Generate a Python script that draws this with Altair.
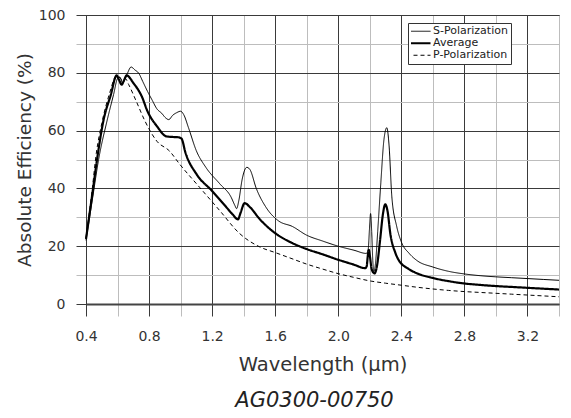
import altair as alt
import pandas as pd

series_names = ["S-Polarization", "Average", "P-Polarization"]

s_wl = [0.40, 0.44, 0.48, 0.533, 0.575, 0.60, 0.615, 0.632, 0.66, 0.686, 0.71, 0.735, 0.76, 0.79, 0.82, 0.85,
        0.88, 0.905, 0.925, 0.95, 0.975, 1.00, 1.02, 1.05, 1.10, 1.16, 1.25, 1.32, 1.345, 1.355, 1.37, 1.39,
        1.42, 1.44, 1.48, 1.54, 1.62, 1.71, 1.80, 1.90, 2.00, 2.10, 2.178, 2.19, 2.198, 2.205, 2.212, 2.219,
        2.226, 2.236, 2.25, 2.27, 2.29, 2.308, 2.322, 2.34, 2.37, 2.40, 2.45, 2.50, 2.60, 2.70, 2.80, 2.90,
        3.00, 3.10, 3.20, 3.30, 3.40]
s_val = [22, 36, 50, 63.3, 72.5, 78, 78.5, 76.5, 79.5, 82, 81, 79.8, 77, 73.6, 70.5, 67.5,
         66, 64.4, 63.8, 65.3, 66.2, 66.7, 65.5, 61, 53, 47.3, 41.5, 37, 34, 33, 36, 43,
         47.3, 46.5, 40, 33.6, 28.8, 26.8, 23.8, 21.8, 20, 18.6, 17.5, 19, 26, 31.3, 25, 15,
         11.2, 14, 25, 42, 57, 61, 55, 37, 27, 21.5, 17.5, 15, 12.8, 11.3, 10.4, 9.8,
         9.4, 9.1, 8.8, 8.5, 8.2]

a_wl = [0.40, 0.44, 0.47, 0.51, 0.558, 0.594, 0.61, 0.626, 0.642, 0.658, 0.70, 0.754, 0.79, 0.85, 0.91,
        0.95, 0.985, 1.006, 1.03, 1.10, 1.196, 1.29, 1.33, 1.364, 1.38, 1.406, 1.44, 1.50, 1.60, 1.70,
        1.80, 1.90, 2.00, 2.10, 2.17, 2.18, 2.188, 2.194, 2.202, 2.212, 2.23, 2.245, 2.265, 2.283, 2.298,
        2.313, 2.33, 2.36, 2.38, 2.45, 2.50, 2.60, 2.70, 2.80, 2.90, 3.00, 3.10, 3.20, 3.30, 3.40]
a_val = [22.5, 38, 50, 63.3, 72.5, 79.1, 77.5, 75.9, 77.5, 79.1, 76.5, 71.8, 66.7, 61.5, 58,
         57.8, 57.7, 57.2, 52.5, 45, 39.3, 33.5, 31, 29.3, 31.5, 34.9, 33.5, 29.5, 24.5, 21.3,
         19, 17.2, 15.3, 13.6, 12.4, 13, 17, 18.7, 16, 12, 10.6, 13, 22, 31, 34.5,
         32, 24.4, 18, 15.5, 12, 10.6, 9, 7.9, 7.1, 6.6, 6.2, 5.9, 5.6, 5.3, 5.0]

p_wl = [0.40, 0.44, 0.465, 0.50, 0.55, 0.585, 0.60, 0.63, 0.65, 0.67, 0.72, 0.774, 0.85, 0.93, 0.994,
        1.12, 1.247, 1.374, 1.50, 1.60, 1.70, 1.80, 1.90, 2.00, 2.10, 2.20, 2.30, 2.40, 2.50, 2.60,
        2.70, 2.80, 2.90, 3.00, 3.10, 3.20, 3.30, 3.40]
p_val = [23, 40, 52, 62.5, 73, 78.5, 79, 77.5, 78, 76, 70, 63.3, 56.3, 52.9, 48.4,
         40.4, 32.4, 24.4, 19.8, 17.8, 15.8, 13.8, 12.1, 10.5, 9.2, 8, 7.2, 6.5, 5.8, 5.2,
         4.7, 4.3, 4.0, 3.7, 3.4, 3.1, 2.8, 2.5]

x_ticks = [0.4, 0.6, 0.8, 1.0, 1.2, 1.4, 1.6, 1.8, 2.0, 2.2, 2.4, 2.6, 2.8, 3.0, 3.2, 3.4]
y_ticks = [0, 10, 20, 30, 40, 50, 60, 70, 80, 90, 100]

rows = []
for name, wl, val in [("S-Polarization", s_wl, s_val), ("Average", a_wl, a_val), ("P-Polarization", p_wl, p_val)]:
    for i, (w, v) in enumerate(zip(wl, val)):
        rows.append({"series": name, "wl": w, "eff": v, "order": i})
df = pd.DataFrame(rows)

FONT = "DejaVu Sans"
MAJOR = "#3a3a3a"
MINOR = "#bdbdbd"

x_major = "round(datum.value*10) % 4 == 0"
y_major = "datum.value % 20 == 0"

x_axis = alt.Axis(
    values=x_ticks,
    labelExpr="round(datum.value*10) % 4 == 0 ? format(datum.value, '.1f') : ''",
    grid=True,
    gridColor=alt.condition(x_major, alt.value(MAJOR), alt.value(MINOR)),
    tickColor=alt.condition(x_major, alt.value(MAJOR), alt.value(MINOR)),
    gridWidth=1, tickWidth=1, tickSize=12,
    labelFont=FONT, labelFontSize=14, labelColor="#333", labelPadding=13,
    labelFlush=False, labelOverlap=False,
    title="Wavelength (μm)", titleFont=FONT, titleFontSize=19.5, titleFontWeight="normal",
    titleColor="#333", titlePadding=12,
    domainColor="#444", domainWidth=2,
)
y_axis = alt.Axis(
    values=y_ticks,
    labelExpr="datum.value % 20 == 0 ? format(datum.value, 'd') : ''",
    grid=True,
    gridColor=alt.condition(y_major, alt.value(MAJOR), alt.value(MINOR)),
    tickColor=alt.condition(y_major, alt.value(MAJOR), alt.value(MINOR)),
    gridWidth=1, tickWidth=1, tickSize=10,
    labelFont=FONT, labelFontSize=14, labelColor="#333", labelPadding=11,
    labelOverlap=False,
    title="Absolute Efficiency (%)", titleFont=FONT, titleFontSize=18.5, titleFontWeight="normal",
    titleColor="#333", titlePadding=4,
    domainColor=MAJOR, domainWidth=1,
)

legend = alt.Legend(
    title=None, orient="none", legendX=322, legendY=8,
    fillColor="white", strokeColor="#333", padding=3, cornerRadius=0,
    labelFont=FONT, labelFontSize=11, labelColor="#222", labelOffset=7,
    symbolType="M-2,0H2", symbolSize=144, symbolStrokeColor="black",
    rowPadding=0, clipHeight=10.5,
)

chart = alt.Chart(df).mark_line(color="black", interpolate="monotone").encode(
    x=alt.X("wl:Q", scale=alt.Scale(domain=[0.4, 3.4], nice=False, zero=False), axis=x_axis),
    y=alt.Y("eff:Q", scale=alt.Scale(domain=[0, 100], nice=False), axis=y_axis),
    detail="series:N",
    order="order:Q",
    strokeDash=alt.StrokeDash("series:N", scale=alt.Scale(type="ordinal", domain=series_names, range=[[1, 0], [1, 0], [4, 3]]), legend=legend),
    strokeWidth=alt.StrokeWidth("series:N", scale=alt.Scale(type="ordinal", domain=series_names, range=[1, 2.2, 1]), legend=legend),
).properties(
    width=473, height=289,
    autosize=alt.AutoSizeParams(type="none"),
    padding={"left": 78, "top": 7, "right": 4, "bottom": 112},
    title=alt.TitleParams("AG0300-00750", orient="bottom", anchor="middle", frame="group",
                          font=FONT, fontSize=21, fontStyle="italic", fontWeight="normal",
                          color="#222", offset=16, dx=-8),
).configure_view(stroke=MAJOR, strokeWidth=1)

chart.save("out.html", embed_options={"renderer": "svg", "actions": False})
